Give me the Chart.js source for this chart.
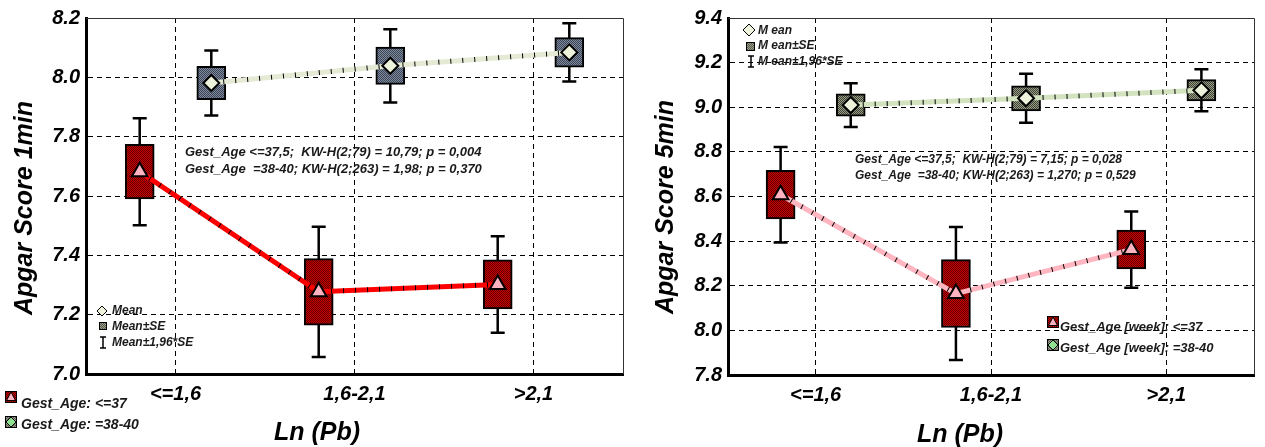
<!DOCTYPE html>
<html>
<head>
<meta charset="utf-8">
<script src="https://cdn.jsdelivr.net/npm/chart.js@4.4.0/dist/chart.umd.min.js"></script>
<style>
  html, body { margin: 0; padding: 0; background: #fff; }
  #wrap { position: relative; width: 1265px; height: 447px; overflow: hidden; }
  #c1 { position: absolute; left: 0; top: 0; }
  #c2 { position: absolute; left: 640px; top: 0; }
</style>
</head>
<body>
<div id="wrap">
  <canvas id="c1" width="640" height="447"></canvas>
  <canvas id="c2" width="625" height="447"></canvas>
</div>
<script>
// categories of Ln(Pb)
const categories = ['<=1,6', '1,6-2,1', '>2,1'];
const yTicks1 = [7.0, 7.2, 7.4, 7.6, 7.8, 8.0, 8.2];
const yTicks5 = [7.8, 8.0, 8.2, 8.4, 8.6, 8.8, 9.0, 9.2, 9.4];

// Apgar 1 min, Gest_Age <=37
const mean1Pre = [7.682, 7.277, 7.302];
const se1Pre = [0.092, 0.112, 0.083];
// Apgar 1 min, Gest_Age 38-40
const mean1Term = [7.981, 8.039, 8.084];
const se1Term = [0.056, 0.063, 0.050];
// Apgar 5 min, Gest_Age <=37
const mean5Pre = [8.608, 8.165, 8.362];
const se5Pre = [0.109, 0.152, 0.087];
// Apgar 5 min, Gest_Age 38-40
const mean5Term = [9.010, 9.040, 9.076];
const se5Term = [0.050, 0.056, 0.048];

const stats1 = ['Gest_Age <=37,5;  KW-H(2;79) = 10,79; p = 0,004',
                'Gest_Age  =38-40; KW-H(2;263) = 1,98; p = 0,370'];
const stats5 = ['Gest_Age <=37,5;  KW-H(2;79) = 7,15; p = 0,028',
                'Gest_Age  =38-40; KW-H(2;263) = 1,270; p = 0,529'];

const FONT = '"Liberation Sans", Arial, sans-serif';
const SHIFT = 0.2;

function makePattern(a, b) {
  const p = document.createElement('canvas');
  p.width = 2; p.height = 2;
  const g = p.getContext('2d');
  g.fillStyle = a; g.fillRect(0, 0, 2, 2);
  g.fillStyle = b; g.fillRect(0, 0, 1, 1); g.fillRect(1, 1, 1, 1);
  return g.createPattern(p, 'repeat');
}
const redFill = makePattern('#c80000', '#640000');
const blueFill = makePattern('#7f8a9c', '#3a4456');
const oliveFill = makePattern('#989d86', '#3e4234');
const greyIcon = makePattern('#9aa08c', '#555a4a');

function pts(means, dx) { return means.map((m, i) => ({ x: i + dx, y: m })); }
function boxes(means, se, dx) { return means.map((m, i) => ({ x: i + dx, y: [m - se[i], m + se[i]] })); }

function groupSets(means, se, dx, fill, lineColor, style, pointFill, radius) {
  return [
    { type: 'bar', data: boxes(means, se, dx), backgroundColor: fill, borderColor: '#000',
      borderWidth: 2, borderSkipped: false, barThickness: 29, grouped: false, order: 5 },
    { type: 'line', data: pts(means, dx), borderColor: lineColor, borderWidth: 5,
      borderCapStyle: 'butt', pointRadius: 0, order: 3 },
    { type: 'line', data: pts(means, dx), borderColor: '#000', borderWidth: 5,
      borderDash: [1, 11], pointRadius: 0, order: 2 },
    { type: 'line', data: pts(means, dx), showLine: false, pointStyle: style, pointRadius: radius,
      pointBackgroundColor: pointFill, pointBorderColor: '#000', pointBorderWidth: 2, order: 1 }
  ];
}

// small legend glyphs
function diamond(ctx, x, y, r, fill) {
  ctx.beginPath();
  ctx.moveTo(x, y - r); ctx.lineTo(x + r, y); ctx.lineTo(x, y + r); ctx.lineTo(x - r, y);
  ctx.closePath();
  ctx.fillStyle = fill; ctx.fill();
  ctx.lineWidth = 1; ctx.strokeStyle = '#000'; ctx.stroke();
}
function triangle(ctx, x, y, r, fill) {
  ctx.beginPath();
  ctx.moveTo(x, y - r); ctx.lineTo(x + r * 0.9, y + r * 0.7); ctx.lineTo(x - r * 0.9, y + r * 0.7);
  ctx.closePath();
  ctx.fillStyle = fill; ctx.fill();
  ctx.lineWidth = 1; ctx.strokeStyle = '#000'; ctx.stroke();
}
function square(ctx, x, y, w, fill) {
  ctx.fillStyle = fill; ctx.fillRect(x, y, w, w);
  ctx.lineWidth = 1; ctx.strokeStyle = '#000'; ctx.strokeRect(x + 0.5, y + 0.5, w - 1, w - 1);
}
function ibar(ctx, x, y1, y2) {
  ctx.beginPath(); ctx.lineWidth = 1.5; ctx.strokeStyle = '#000';
  ctx.moveTo(x, y1); ctx.lineTo(x, y2);
  ctx.moveTo(x - 3, y1); ctx.lineTo(x + 3, y1);
  ctx.moveTo(x - 3, y2); ctx.lineTo(x + 3, y2);
  ctx.stroke();
}
function label(ctx, text, x, y, size) {
  ctx.font = 'italic bold ' + size + 'px ' + FONT;
  ctx.fillStyle = '#1a1a1a'; ctx.textAlign = 'left'; ctx.textBaseline = 'middle';
  ctx.fillText(text, x, y);
}

function panel(id, o) {
  const deco = {
    id: 'deco',
    beforeDatasetsDraw(chart) {
      const { ctx, scales: { x, y } } = chart;
      ctx.save();
      ctx.strokeStyle = '#000'; ctx.lineWidth = 2.5;
      o.groups.forEach(g => {
        g.mean.forEach((m, i) => {
          const px = x.getPixelForValue(i + g.dx);
          const top = y.getPixelForValue(m + 1.96 * g.se[i]);
          const bot = y.getPixelForValue(m - 1.96 * g.se[i]);
          ctx.beginPath();
          ctx.moveTo(px, top); ctx.lineTo(px, bot);
          ctx.moveTo(px - 7, top); ctx.lineTo(px + 7, top);
          ctx.moveTo(px - 7, bot); ctx.lineTo(px + 7, bot);
          ctx.stroke();
        });
      });
      ctx.restore();
    },
    afterDraw(chart) {
      const { ctx, chartArea: a } = chart;
      ctx.save();
      // thin frame on top and right
      ctx.strokeStyle = '#333'; ctx.lineWidth = 1;
      ctx.beginPath();
      ctx.moveTo(a.left, Math.round(a.top) + 0.5); ctx.lineTo(Math.round(a.right) + 0.5, Math.round(a.top) + 0.5);
      ctx.lineTo(Math.round(a.right) + 0.5, a.bottom);
      ctx.stroke();
      // axis titles
      ctx.fillStyle = '#000';
      ctx.font = 'italic bold 25px ' + FONT;
      ctx.textAlign = 'center'; ctx.textBaseline = 'alphabetic';
      ctx.fillText('Ln (Pb)', o.xTitle[0], o.xTitle[1]);
      ctx.translate(o.yTitle[0], o.yTitle[1]);
      ctx.rotate(-Math.PI / 2);
      ctx.fillText(o.yTitleText, 0, 0);
      ctx.setTransform(1, 0, 0, 1, 0, 0);
      // statistics
      o.stats.forEach((t, k) => label(ctx, t, o.statsPos[0], o.statsPos[1] + k * o.statsPos[2], o.statsSize));
      o.legend(ctx);
      ctx.restore();
    }
  };

  const tickFont = { family: FONT, size: 20, style: 'italic', weight: 'bold' };
  const yMax = o.yTicks[o.yTicks.length - 1];
  return new Chart(document.getElementById(id), {
    type: 'bar',
    data: { datasets: o.groups.flatMap(g => groupSets(g.mean, g.se, g.dx, g.fill, g.line, g.style, g.pointFill, g.radius)) },
    options: {
      responsive: false,
      animation: false,
      layout: { padding: o.padding },
      plugins: { legend: { display: false }, tooltip: { enabled: false } },
      scales: {
        x: {
          type: 'linear', min: -0.5, max: 2.5, offset: false, stacked: true,
          afterBuildTicks: s => { s.ticks = categories.map((c, i) => ({ value: i })); },
          afterFit: s => { s.height = o.xHeight; },
          ticks: { callback: v => categories[v], font: tickFont, color: '#000', padding: 8, maxRotation: 0, autoSkip: false },
          grid: { color: '#000', lineWidth: 1, drawTicks: false, offset: false },
          border: { color: '#000', width: 3, dash: [5, 4] }
        },
        y: {
          min: o.yTicks[0], max: yMax,
          afterBuildTicks: s => { s.ticks = o.yTicks.map(v => ({ value: v })); },
          afterFit: s => { s.width = o.yWidth; },
          ticks: { callback: v => v.toFixed(1), font: tickFont, color: '#000', padding: 6 },
          grid: { color: c => (c.tick && Math.abs(c.tick.value - yMax) < 1e-6) ? 'rgba(0,0,0,0)' : '#000', lineWidth: 1, drawTicks: false },
          border: { color: '#000', width: 3, dash: [5, 4] }
        }
      }
    },
    plugins: [deco]
  });
}

panel('c1', {
  padding: { top: 17, right: 17, left: 0, bottom: 0 },
  xHeight: 73, yWidth: 86,
  yTicks: yTicks1,
  yTitleText: 'Apgar Score 1min', yTitle: [32, 208], xTitle: [317, 440],
  stats: stats1, statsPos: [185, 152, 17], statsSize: 13,
  groups: [
    { mean: mean1Pre, se: se1Pre, dx: -SHIFT, fill: redFill, line: '#ff0000', style: 'triangle', pointFill: '#ffb3c1', radius: 9 },
    { mean: mean1Term, se: se1Term, dx: SHIFT, fill: blueFill, line: '#e4ead4', style: 'rectRot', pointFill: '#eef3dc', radius: 8 }
  ],
  legend(ctx) {
    diamond(ctx, 102, 311, 5, '#eef3dc'); label(ctx, 'Mean', 112, 311, 12);
    square(ctx, 99, 322, 8, greyIcon); label(ctx, 'Mean\u00b1SE', 112, 327, 12);
    ibar(ctx, 103, 337, 348); label(ctx, 'Mean\u00b11,96*SE', 112, 343, 12);
    square(ctx, 5, 391, 12, redFill); triangle(ctx, 11, 397, 5, '#ffb3c1');
    label(ctx, 'Gest_Age: <=37', 21, 404, 14);
    square(ctx, 5, 416, 12, greyIcon); diamond(ctx, 11, 422, 5, '#8fe08f');
    label(ctx, 'Gest_Age: =38-40', 21, 425, 14);
  }
});

panel('c2', {
  padding: { top: 15, right: 1, left: 0, bottom: 0 },
  xHeight: 72, yWidth: 88,
  yTicks: yTicks5,
  yTitleText: 'Apgar Score 5min', yTitle: [33, 207], xTitle: [320, 442],
  stats: stats5, statsPos: [215, 160, 16], statsSize: 12,
  groups: [
    { mean: mean5Pre, se: se5Pre, dx: -SHIFT, fill: redFill, line: '#ffb6c1', style: 'triangle', pointFill: '#ffb3c1', radius: 9 },
    { mean: mean5Term, se: se5Term, dx: SHIFT, fill: oliveFill, line: '#d3e2bf', style: 'rectRot', pointFill: '#eef3dc', radius: 8 }
  ],
  legend(ctx) {
    diamond(ctx, 109, 30, 6, '#eef3dc'); label(ctx, 'M ean', 118, 31, 12);
    square(ctx, 106, 42, 9, greyIcon); label(ctx, 'M ean\u00b1SE', 118, 46, 12);
    ibar(ctx, 111, 56, 67); label(ctx, 'M ean\u00b11,96*SE', 118, 62, 12);
    square(ctx, 407, 316, 12, redFill); triangle(ctx, 413, 322, 5, '#ffb3c1');
    label(ctx, 'Gest_Age [week]: <=37', 420, 327, 13);
    square(ctx, 407, 339, 12, greyIcon); diamond(ctx, 413, 345, 5, '#8fe08f');
    label(ctx, 'Gest_Age [week]: =38-40', 420, 348, 13);
  }
});
</script>
</body>
</html>
